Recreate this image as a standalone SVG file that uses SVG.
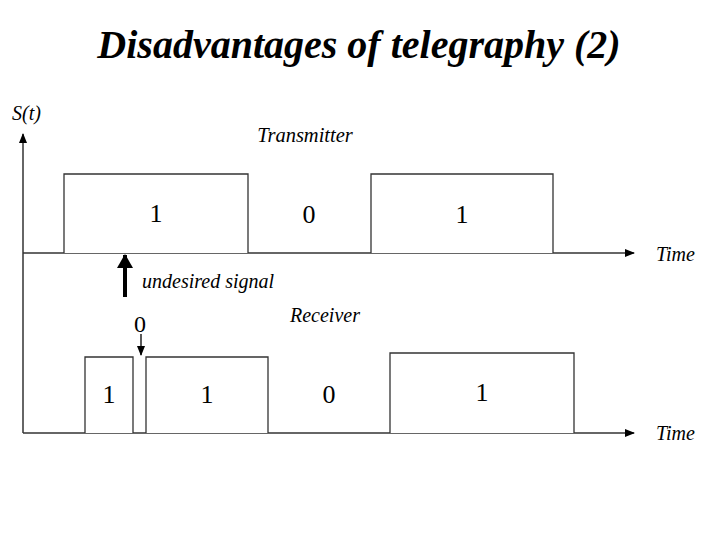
<svg xmlns="http://www.w3.org/2000/svg" width="720" height="540" viewBox="0 0 720 540">
<style>
.t{font-family:"Liberation Serif",serif;fill:#000}
.i{font-style:italic}
.ln{stroke:#333;stroke-width:1.5;fill:none}
.bx{stroke:#333;stroke-width:1.3;fill:#fff}
</style>
<defs>
<marker id="ah" markerWidth="10" markerHeight="8" refX="9" refY="4" orient="auto" markerUnits="userSpaceOnUse"><path d="M0,0L10,4L0,8Z" fill="#000"/></marker>
</defs>
<rect width="720" height="540" fill="#fff"/>
<text class="t i" x="359" y="58" font-size="40" font-weight="bold" text-anchor="middle">Disadvantages of telegraphy (2)</text>
<g id="connectors">
<line class="ln" x1="23" y1="433" x2="23" y2="134" marker-end="url(#ah)"/>
<line class="ln" x1="23" y1="253" x2="634" y2="253" marker-end="url(#ah)"/>
<line class="ln" x1="23" y1="433" x2="634" y2="433" marker-end="url(#ah)"/>
<line x1="125" y1="297" x2="125" y2="255" stroke="#000" stroke-width="4"/>
<path d="M117,268L125,254L133,268Z" fill="#000"/>
<line x1="141" y1="334" x2="141" y2="355" stroke="#000" stroke-width="1.3" marker-end="url(#ah)"/>
</g>
<g id="tx1"><path class="bx" d="M64,253V174H248V253"/><text class="t" x="156" y="222" font-size="26" text-anchor="middle">1</text></g>
<g id="tx0"><text class="t" x="309" y="223" font-size="26" text-anchor="middle">0</text></g>
<g id="tx2"><path class="bx" d="M371,253V174H553V253"/><text class="t" x="462" y="223" font-size="26" text-anchor="middle">1</text></g>
<g id="rx1"><path class="bx" d="M85,433V357H133V433"/><text class="t" x="109" y="403" font-size="26" text-anchor="middle">1</text></g>
<g id="rx2"><path class="bx" d="M146,433V357H268V433"/><text class="t" x="207" y="403" font-size="26" text-anchor="middle">1</text></g>
<g id="rx0"><text class="t" x="329" y="403" font-size="26" text-anchor="middle">0</text></g>
<g id="rx3"><path class="bx" d="M390,433V353H574V433"/><text class="t" x="482" y="401" font-size="26" text-anchor="middle">1</text></g>
<g id="labels">
<text class="t i" x="12" y="120" font-size="20">S(t)</text>
<text class="t i" x="305" y="142" font-size="20.5" text-anchor="middle">Transmitter</text>
<text class="t i" x="656" y="261" font-size="20">Time</text>
<text class="t i" x="656" y="440" font-size="20">Time</text>
<text class="t i" x="142" y="288" font-size="20">undesired signal</text>
<text class="t i" x="325" y="322" font-size="20" text-anchor="middle">Receiver</text>
<text class="t" x="140" y="332" font-size="24" text-anchor="middle">0</text>
</g>
</svg>
